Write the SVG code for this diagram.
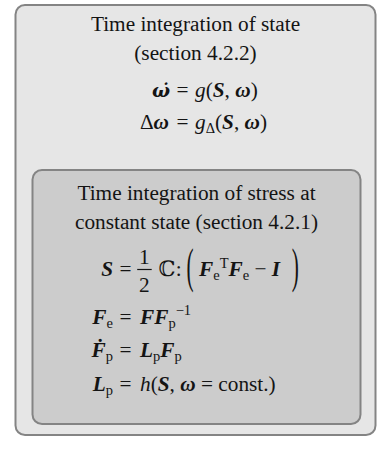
<svg xmlns="http://www.w3.org/2000/svg" width="392" height="453" viewBox="0 0 392 453">
<style>
text{font-family:"Liberation Serif","DejaVu Serif",serif;font-size:21.3px;fill:#141414}
.c{text-anchor:middle}
.e{text-anchor:end}
.i{font-style:italic}
.b{font-weight:bold;font-style:italic}
.s{font-size:14.5px}
.dj{font-family:"DejaVu Serif",serif;font-size:19px}
.box{stroke:#848484;stroke-width:2}
</style>
<g id="outer">
<rect class="box" x="15.5" y="5" width="360" height="430" rx="9.5" fill="#e6e6e6"/>
<text class="c" x="195.5" y="31">Time integration of state</text>
<text class="c" x="195.5" y="60">(section 4.2.2)</text>
<text class="e" x="170" y="96.6"><tspan class="b dj">ω̇</tspan></text>
<text class="c" x="182.6" y="96.6">=</text>
<text x="195" y="96.6"><tspan class="i">g</tspan>(<tspan class="b">S</tspan>, <tspan class="b">ω</tspan>)</text>
<text class="e" x="169" y="128.5">Δ<tspan class="b">ω</tspan></text>
<text class="c" x="182.6" y="128.5">=</text>
<text x="195" y="128.5"><tspan class="i">g</tspan><tspan class="s" dy="4">Δ</tspan><tspan dy="-4">(</tspan><tspan class="b">S</tspan>, <tspan class="b">ω</tspan>)</text>
</g>
<g id="inner">
<rect class="box" x="32.5" y="170" width="328" height="254" rx="9.5" fill="#cccccc"/>
<text class="c" x="196.5" y="200">Time integration of stress at</text>
<text class="c" x="196.5" y="229">constant state (section 4.2.1)</text>
<text class="e" x="113" y="276.3"><tspan class="b">S</tspan></text>
<text class="c" x="125.6" y="276.3">=</text>
<text class="c" x="144.4" y="263.7">1</text>
<line x1="137.2" y1="269.5" x2="151.7" y2="269.5" stroke="#141414" stroke-width="1.2"/>
<text class="c" x="144.4" y="291.7">2</text>
<text x="158.4" y="276.3">ℂ</text>
<text x="175.8" y="276.3">:</text>
<text transform="translate(186.4,281.6) scale(1,2.25)">(</text>
<text x="199" y="276.3"><tspan class="b">F</tspan><tspan class="s" dy="4">e</tspan><tspan class="s" dy="-12">T</tspan><tspan class="b" dy="8">F</tspan><tspan class="s" dy="4">e</tspan><tspan dy="-4"> − </tspan><tspan class="b">I</tspan></text>
<text transform="translate(291.7,281.6) scale(1,2.25)">)</text>
<text class="e" x="113" y="323.6"><tspan class="b">F</tspan><tspan class="s" dy="4">e</tspan></text>
<text class="c" x="125.6" y="323.6">=</text>
<text x="140" y="323.6"><tspan class="b">FF</tspan><tspan class="s" dy="4">p</tspan><tspan class="s" dy="-13">−1</tspan></text>
<text class="e" x="113" y="357.4"><tspan class="b">Ḟ</tspan><tspan class="s" dy="4">p</tspan></text>
<text class="c" x="125.6" y="357.4">=</text>
<text x="140" y="357.4"><tspan class="b">L</tspan><tspan class="s" dy="4">p</tspan><tspan class="b" dy="-4">F</tspan><tspan class="s" dy="4">p</tspan></text>
<text class="e" x="113" y="391.2"><tspan class="b">L</tspan><tspan class="s" dy="4">p</tspan></text>
<text class="c" x="125.6" y="391.2">=</text>
<text x="140" y="391.2"><tspan class="i">h</tspan>(<tspan class="b">S</tspan>, <tspan class="b">ω</tspan> = const.)</text>
</g>
</svg>
